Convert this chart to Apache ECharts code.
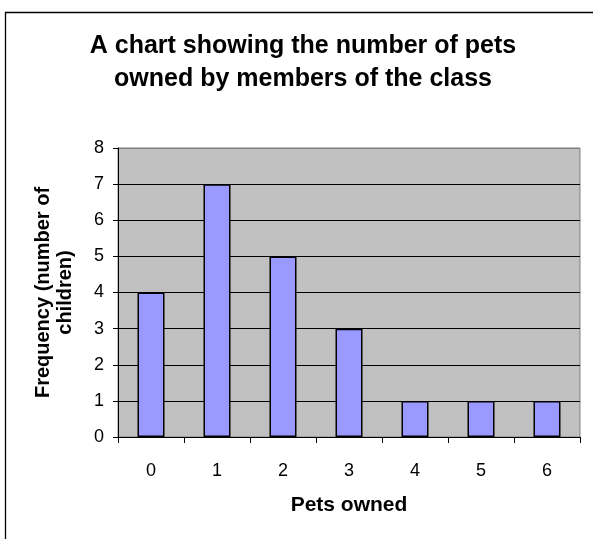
<!DOCTYPE html>
<html><head><meta charset="utf-8">
<script src="https://cdn.jsdelivr.net/npm/echarts@6/dist/echarts.min.js"></script>
<style>html,body{margin:0;padding:0;background:#fff}#c{width:593px;height:539px}</style>
</head><body><div id="c"></div>
<script>
const categories = ['0','1','2','3','4','5','6'];
const frequencies = [4,7,5,3,1,1,1];
const titleText = 'A chart showing the number of pets\nowned by members of the class';
const xName = 'Pets owned';
const yName = 'Frequency (number of\nchildren)';

const chart = echarts.init(document.getElementById('c'), null, {renderer:'canvas'});
const font = 'Liberation Sans, Arial, sans-serif';
chart.setOption({
  animation:false,
  backgroundColor:'#fff',
  title:{text:titleText,left:298,top:25,textAlign:'center',
    textStyle:{fontFamily:font,fontSize:25,fontWeight:'bold',color:'#000',lineHeight:33}},
  graphic:[{type:'rect',shape:{x:5.5,y:12.5,width:700,height:700},style:{fill:null,stroke:'#000',lineWidth:1.3},silent:true}],
  grid:{left:118,right:13,top:148,bottom:102,show:true,backgroundColor:'#C0C0C0',borderColor:'#808080',borderWidth:1},
  xAxis:{type:'category',data:categories,boundaryGap:true,
    name:xName,nameLocation:'middle',nameGap:58,
    nameTextStyle:{fontFamily:font,fontSize:21,fontWeight:'bold',color:'#000'},
    axisLine:{lineStyle:{color:'#000',width:1}},
    axisTick:{show:true,length:6,alignWithLabel:false,lineStyle:{color:'#000'}},
    axisLabel:{fontFamily:font,fontSize:18,color:'#000',margin:25}},
  yAxis:{type:'value',min:0,max:8,interval:1,
    name:yName,nameLocation:'middle',nameGap:42,nameRotate:90,
    nameTextStyle:{fontFamily:font,fontSize:20,fontWeight:'bold',color:'#000',lineHeight:22},
    axisLine:{show:true,lineStyle:{color:'#000',width:1}},
    axisTick:{show:true,length:5,lineStyle:{color:'#000'}},
    axisLabel:{fontFamily:font,fontSize:18,color:'#000',margin:14},
    splitLine:{show:true,lineStyle:{color:['#000','#000','#000','#000','#000','#000','#000','#000','#808080'],width:1}}},
  series:[{type:'bar',data:frequencies,barWidth:27,
    itemStyle:{color:'#9999FF',borderColor:'#000',borderWidth:1.5}}]
});
</script></body></html>
